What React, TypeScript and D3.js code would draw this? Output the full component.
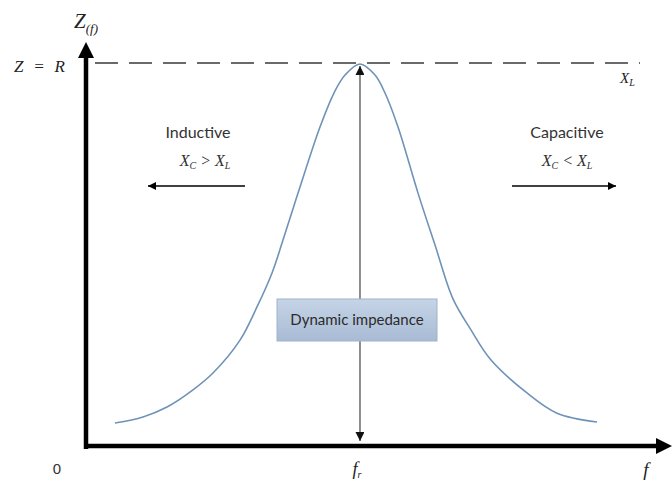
import React from "react";
import * as d3 from "d3";

// Frequency (arbitrary units, 0..100) and impedance (% of R)
const fValues = [4.84, 9.69, 13.84, 18.34, 21.8, 26.47, 29.41, 32.01, 33.91, 36.51, 40.31, 42.73, 44.64, 47.23, 49.83, 51.56, 53.81, 57.27, 60.21, 63.32, 66.43, 69.9, 76.12, 81.31, 88.24];
const zValues = [6.0, 7.6, 10.2, 14.7, 19.1, 27.7, 36.4, 45.3, 53.9, 66.2, 83.5, 92.4, 97.1, 100, 97.1, 92.4, 83.5, 66.2, 52.6, 38.5, 30.4, 22.5, 13.9, 8.6, 6.3];
const fResonance = 47.23;
const zResistance = 100;

const W = 672;
const H = 481;

export default function App() {
  const x = d3.scaleLinear().domain([0, 100]).range([87, 665]);
  const y = d3.scaleLinear().domain([0, 100]).range([446, 64]);
  const pts: [number, number][] = fValues.map((f, i) => [f, zValues[i]]);
  const line = d3
    .line<[number, number]>()
    .x((d) => x(d[0]))
    .y((d) => y(d[1]))
    .curve(d3.curveCatmullRom.alpha(0.5));

  const x0 = x(0) - 1;
  const y0 = y(0);
  const xr = x(fResonance);
  const yR = y(zResistance);
  const serif = "'Liberation Serif', 'DejaVu Serif', serif";
  const sans = "Lato, 'Open Sans', sans-serif";

  return (
    <svg
      width={W}
      height={H}
      style={{ position: "absolute", left: 0, top: 0, background: "#fff" }}
    >
      <defs>
        <linearGradient id="boxg" x1="0" y1="0" x2="0" y2="1">
          <stop offset="0" stopColor="#c6d4e6" />
          <stop offset="1" stopColor="#a8bbd5" />
        </linearGradient>
        <marker id="ah" viewBox="0 0 10 10" refX="10" refY="5" markerWidth="10" markerHeight="8" markerUnits="userSpaceOnUse" orient="auto">
          <path d="M0,0 L10,5 L0,10 Z" fill="#000" />
        </marker>
        <marker id="ah2" viewBox="0 0 10 10" refX="10" refY="5" markerWidth="9" markerHeight="9" markerUnits="userSpaceOnUse" orient="auto-start-reverse">
          <path d="M0,0 L10,5 L0,10 Z" fill="#111" />
        </marker>
      </defs>

      {/* dashed Z=R line */}
      <line x1={95} x2={640} y1={yR - 1} y2={yR - 1} stroke="#3a3a3a" strokeWidth={1.6} strokeDasharray="23 11" />

      {/* curve */}
      <path d={line(pts) || ""} fill="none" stroke="#6f93b8" strokeWidth={1.6} />

      {/* resonance double arrow */}
      <line x1={xr} x2={xr} y1={yR + 2} y2={y0 - 5} stroke="#333" strokeWidth={1.1} markerStart="url(#ah2)" markerEnd="url(#ah2)" />

      {/* Dynamic impedance box */}
      <rect x={277} y={299} width={160} height={42} fill="url(#boxg)" stroke="#9fb3cc" strokeWidth={1} />
      <text x={357} y={325} textAnchor="middle" fontFamily={sans} fontSize={15} fill="#2b2b2b">
        Dynamic impedance
      </text>

      {/* axes */}
      <line x1={x0} x2={x0} y1={y0 + 3} y2={56} stroke="#000" strokeWidth={4.5} />
      <path d={`M${x0 - 8},58 L${x0},42 L${x0 + 8},58 Z`} fill="#000" />
      <line x1={x0 - 2} x2={658} y1={y0} y2={y0} stroke="#000" strokeWidth={4.5} />
      <path d={`M656,${y0 - 8} L672,${y0} L656,${y0 + 8} Z`} fill="#000" />

      {/* region labels */}
      <text x={198} y={138} textAnchor="middle" fontFamily={sans} fontSize={16} fill="#333">Inductive</text>
      <text x={205} y={166} textAnchor="middle" fontFamily={serif} fontStyle="italic" fontSize={16} fill="#333">
        X<tspan fontSize={10} dy={3}>C</tspan><tspan dy={-3}> &gt; X</tspan><tspan fontSize={10} dy={3}>L</tspan>
      </text>
      <line x1={245} x2={148} y1={186} y2={186} stroke="#000" strokeWidth={1.3} markerEnd="url(#ah)" />

      <text x={567} y={138} textAnchor="middle" fontFamily={sans} fontSize={16} fill="#333">Capacitive</text>
      <text x={567} y={166} textAnchor="middle" fontFamily={serif} fontStyle="italic" fontSize={16} fill="#333">
        X<tspan fontSize={10} dy={3}>C</tspan><tspan dy={-3}> &lt; X</tspan><tspan fontSize={10} dy={3}>L</tspan>
      </text>
      <line x1={512} x2={616} y1={186} y2={186} stroke="#000" strokeWidth={1.3} markerEnd="url(#ah)" />

      {/* axis labels */}
      <text x={74} y={28} fontFamily={serif} fontStyle="italic" fontSize={21} fill="#222">
        Z<tspan fontSize={13} dy={5}>(f)</tspan>
      </text>
      <text x={14} y={72} fontFamily={serif} fontStyle="italic" fontSize={17} fill="#222" textLength={51} lengthAdjust="spacing">Z = R</text>
      <text x={620} y={83} fontFamily={serif} fontStyle="italic" fontSize={15} fill="#222">
        X<tspan fontSize={10} dy={3}>L</tspan>
      </text>
      <text x={57} y={474} textAnchor="middle" fontFamily="'Liberation Sans', Arial, sans-serif" fontSize={15} fill="#333">0</text>
      <text x={xr - 3} y={475} textAnchor="middle" fontFamily={serif} fontStyle="italic" fontSize={18} fill="#222">
        f<tspan fontSize={10} dy={3}>r</tspan>
      </text>
      <text x={646} y={476} textAnchor="middle" fontFamily={serif} fontStyle="italic" fontSize={19} fill="#222">f</text>
    </svg>
  );
}
